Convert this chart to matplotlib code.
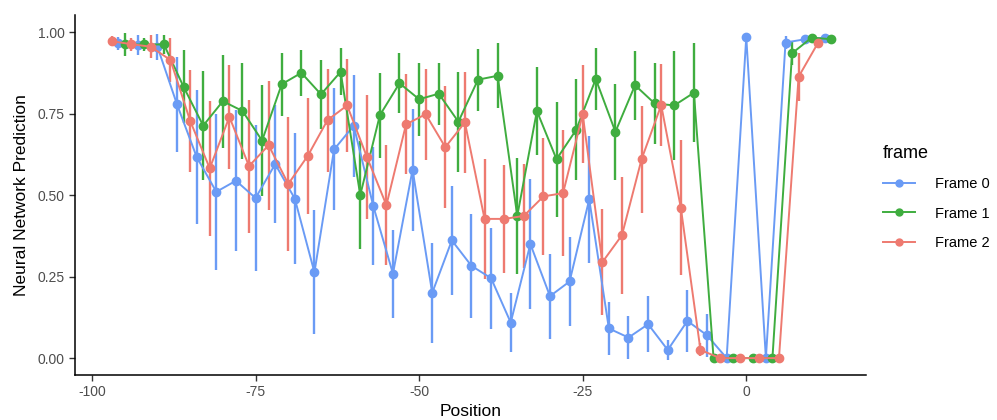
import matplotlib
matplotlib.use("Agg")
import matplotlib.pyplot as plt
from matplotlib.lines import Line2D

plt.rcParams['font.family'] = ['Liberation Sans', 'DejaVu Sans']
plt.rcParams['axes.unicode_minus'] = False

# Frame 0 (blue)
pos0 = list(range(-96, 13, 3))
val0 = [0.965, 0.96, 0.955, 0.778, 0.617, 0.51, 0.544, 0.491, 0.595, 0.489, 0.263, 0.64,
        0.713, 0.466, 0.259, 0.578, 0.2, 0.361, 0.283, 0.245, 0.109, 0.35, 0.19, 0.235,
        0.487, 0.091, 0.063, 0.104, 0.025, 0.114, 0.07, 0.0, 0.985, 0.0, 0.968, 0.978, 0.983]
err0 = [0.02, 0.03, 0.04, 0.145, 0.205, 0.24, 0.216, 0.224, 0.18, 0.2, 0.19, 0.187,
        0.156, 0.18, 0.135, 0.187, 0.154, 0.168, 0.159, 0.155, 0.09, 0.198, 0.13, 0.135,
        0.195, 0.08, 0.066, 0.086, 0.03, 0.094, 0.066, 0.0, 0.0, 0.0, 0.02, 0.01, 0.01]

# Frame 1 (green)
pos1 = list(range(-95, 14, 3))
val1 = [0.962, 0.962, 0.962, 0.832, 0.713, 0.788, 0.758, 0.667, 0.84, 0.875, 0.809, 0.878,
        0.5, 0.745, 0.843, 0.794, 0.811, 0.725, 0.854, 0.866, 0.436, 0.758, 0.61, 0.7,
        0.856, 0.694, 0.837, 0.781, 0.775, 0.814, 0.0, 0.0, 0.0, 0.0, 0.935, 0.983, 0.978]
err1 = [0.036, 0.02, 0.03, 0.112, 0.168, 0.143, 0.146, 0.17, 0.097, 0.07, 0.105, 0.072,
        0.166, 0.13, 0.092, 0.112, 0.095, 0.153, 0.095, 0.1, 0.177, 0.135, 0.176, 0.155,
        0.094, 0.147, 0.106, 0.125, 0.168, 0.152, 0.0, 0.0, 0.0, 0.0, 0.035, 0.01, 0.01]

# Frame 2 (red)
pos2 = list(range(-97, 12, 3))
val2 = [0.972, 0.963, 0.955, 0.914, 0.728, 0.582, 0.74, 0.589, 0.653, 0.534, 0.621, 0.73,
        0.775, 0.618, 0.469, 0.717, 0.748, 0.647, 0.723, 0.427, 0.427, 0.436, 0.496, 0.506,
        0.748, 0.294, 0.377, 0.61, 0.776, 0.461, 0.025, 0.0, 0.0, 0.0, 0.0, 0.863, 0.968]
err2 = [0.015, 0.02, 0.035, 0.067, 0.157, 0.206, 0.16, 0.204, 0.198, 0.205, 0.178, 0.158,
        0.142, 0.19, 0.184, 0.153, 0.14, 0.188, 0.154, 0.185, 0.166, 0.16, 0.18, 0.194,
        0.151, 0.162, 0.179, 0.164, 0.126, 0.207, 0.02, 0.0, 0.0, 0.0, 0.0, 0.074, 0.01]

series = [("Frame 0", pos0, val0, err0, "#6A9BF5"),
          ("Frame 1", pos1, val1, err1, "#3FAD3F"),
          ("Frame 2", pos2, val2, err2, "#EE7A70")]

fig = plt.figure(figsize=(9.97, 4.2), dpi=100)
ax = fig.add_axes([0.0752, 0.107, 0.7934, 0.857])

handles = []
for name, p, v, e, c in series:
    ax.errorbar(p, v, yerr=e, fmt='-o', color=c, ecolor=c, elinewidth=1.7, lw=1.4,
                ms=6, capsize=0)
    handles.append(Line2D([], [], color=c, lw=1.4, marker='o', ms=5, label=name))

ax.set_xlim(-102.6, 18.3)
ax.set_ylim(-0.052, 1.052)
ax.set_xticks([-100, -75, -50, -25, 0])
ax.set_yticks([0, 0.25, 0.5, 0.75, 1.0])
ax.set_yticklabels(["0.00", "0.25", "0.50", "0.75", "1.00"])
ax.tick_params(axis='both', labelsize=10, colors='#4D4D4D', length=4, width=1)
ax.tick_params(axis='both', color='#333333')
for s in ['top', 'right']:
    ax.spines[s].set_visible(False)
for s in ['left', 'bottom']:
    ax.spines[s].set_linewidth(1.1)
ax.set_xlabel("Position", fontsize=12.5, labelpad=3)
ax.set_ylabel("Neural Network Prediction", fontsize=12.5, labelpad=6)

leg = fig.legend(handles=handles, loc='center left', bbox_to_anchor=(0.872, 0.53),
                 frameon=False, title="frame", fontsize=10.5, title_fontsize=13,
                 handlelength=2.2, handletextpad=1.4, labelspacing=1.05, alignment='left')

plt.savefig('out.png', dpi=100)
